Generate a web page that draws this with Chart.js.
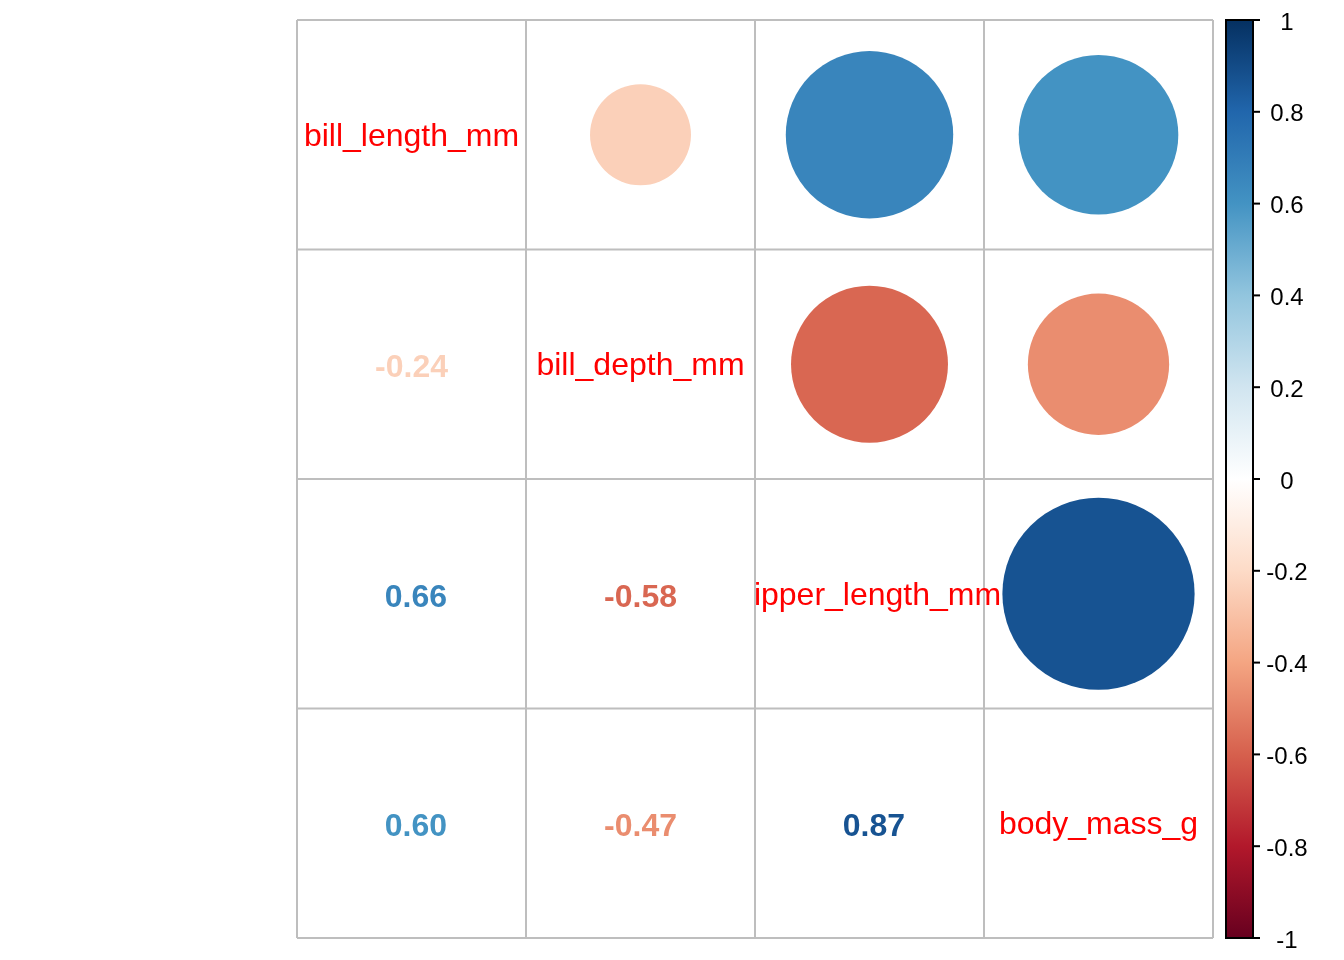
<!DOCTYPE html>
<html>
<head>
<meta charset="utf-8">
<script src="https://cdn.jsdelivr.net/npm/chart.js@4/dist/chart.umd.min.js"></script>
<style>
  html, body { margin: 0; padding: 0; background: #ffffff; }
  #wrap { width: 1344px; height: 960px; }
</style>
</head>
<body>
<div id="wrap"><canvas id="corr"></canvas></div>
<script>
'use strict';

// ── Data ────────────────────────────────────────────────────────
const variables = ['bill_length_mm', 'bill_depth_mm', 'flipper_length_mm', 'body_mass_g'];
const corrBillLength  = [1.00, -0.24, 0.66, 0.60];
const corrBillDepth   = [-0.24, 1.00, -0.58, -0.47];
const corrFlipper     = [0.66, -0.58, 1.00, 0.87];
const corrBodyMass    = [0.60, -0.47, 0.87, 1.00];
const corrMatrix = [corrBillLength, corrBillDepth, corrFlipper, corrBodyMass];
const legendTicks = [1, 0.8, 0.6, 0.4, 0.2, 0, -0.2, -0.4, -0.6, -0.8, -1];

// ── Palette (RdBu, as corrplot COL2) ───────────────────────────
const PALETTE = ['#67001F', '#B2182B', '#D6604D', '#F4A582', '#FDDBC7', '#FFFFFF',
                 '#D1E5F0', '#92C5DE', '#4393C3', '#2166AC', '#053061'];
const GRID = '#BEBEBE';
const FONT = '"Liberation Sans", Arial, sans-serif';

function hexToRgb(h) {
  return [parseInt(h.slice(1, 3), 16), parseInt(h.slice(3, 5), 16), parseInt(h.slice(5, 7), 16)];
}

function corrColor(r) {
  const pos = (r + 1) / 2 * (PALETTE.length - 1);
  const i = Math.min(Math.floor(pos), PALETTE.length - 2);
  const t = pos - i;
  const a = hexToRgb(PALETTE[i]);
  const b = hexToRgb(PALETTE[i + 1]);
  const c = a.map((v, k) => Math.round(v + (b[k] - v) * t));
  return `rgb(${c[0]},${c[1]},${c[2]})`;
}

function fmt(r) {
  const s = Math.abs(r).toFixed(2);
  return r < 0 ? '-' + s : ' ' + s;
}

function circleRadius(c) {
  const xs = c.chart.scales.x;
  const cell = Math.abs(xs.getPixelForValue(1) - xs.getPixelForValue(0));
  return c.raw ? Math.sqrt(Math.abs(c.raw.r)) * 0.45 * cell : 0;
}

// ── Upper triangle circles ─────────────────────────────────────
const circles = [];
corrMatrix.forEach((row, i) => {
  row.forEach((r, j) => {
    if (j > i) circles.push({ x: j + 1, y: i + 1, r: r });
  });
});

// ── Plugin: grid, diagonal labels, numbers, colour legend ──────
const corrPlot = {
  id: 'corrPlot',
  afterDatasetsDraw(chart) {
    const { ctx, scales: { x, y, cb } } = chart;
    const area = chart.chartArea;

    // grid
    ctx.save();
    ctx.strokeStyle = GRID;
    ctx.lineWidth = 2;
    for (let k = 0; k <= variables.length; k++) {
      const px = x.getPixelForValue(k + 0.5);
      const py = y.getPixelForValue(k + 0.5);
      ctx.beginPath();
      ctx.moveTo(px, area.top);
      ctx.lineTo(px, area.bottom);
      ctx.stroke();
      ctx.beginPath();
      ctx.moveTo(area.left, py);
      ctx.lineTo(area.right, py);
      ctx.stroke();
    }
    ctx.restore();

    // lower triangle numbers
    ctx.save();
    ctx.textAlign = 'center';
    ctx.textBaseline = 'middle';
    ctx.font = `bold 32px ${FONT}`;
    corrMatrix.forEach((row, i) => {
      row.forEach((r, j) => {
        if (j < i) {
          ctx.fillStyle = corrColor(r);
          ctx.fillText(fmt(r), x.getPixelForValue(j + 1), y.getPixelForValue(i + 1) + 4);
        }
      });
    });
    ctx.restore();

    // diagonal labels (clipped at the left cell edge)
    variables.forEach((name, i) => {
      const left = x.getPixelForValue(i + 0.5);
      ctx.save();
      ctx.beginPath();
      ctx.rect(left, area.top, area.right + 60 - left, area.bottom - area.top);
      ctx.clip();
      ctx.font = `32px ${FONT}`;
      ctx.fillStyle = '#FF0000';
      ctx.textAlign = 'center';
      ctx.textBaseline = 'middle';
      ctx.fillText(name, x.getPixelForValue(i + 1), y.getPixelForValue(i + 1) + 2);
      ctx.restore();
    });

    // colour legend
    const bx0 = 1226, bx1 = 1253;
    const top = cb.getPixelForValue(1), bottom = cb.getPixelForValue(-1);
    const grad = ctx.createLinearGradient(0, top, 0, bottom);
    PALETTE.slice().reverse().forEach((c, k) => grad.addColorStop(k / (PALETTE.length - 1), c));
    ctx.save();
    ctx.fillStyle = grad;
    ctx.fillRect(bx0, top, bx1 - bx0, bottom - top);
    ctx.strokeStyle = '#000000';
    ctx.lineWidth = 2;
    ctx.strokeRect(bx0, top, bx1 - bx0, bottom - top);
    ctx.font = `24px ${FONT}`;
    ctx.fillStyle = '#000000';
    ctx.textAlign = 'center';
    ctx.textBaseline = 'middle';
    legendTicks.forEach(v => {
      const py = cb.getPixelForValue(v);
      ctx.beginPath();
      ctx.moveTo(bx1, py);
      ctx.lineTo(bx1 + 7, py);
      ctx.stroke();
      ctx.fillText(String(v), 1287, py + 3);
    });
    ctx.restore();
  }
};

// ── Chart ───────────────────────────────────────────────────────
new Chart(document.getElementById('corr').getContext('2d'), {
  type: 'scatter',
  data: {
    datasets: [{
      data: circles,
      pointStyle: 'circle',
      borderWidth: 0,
      backgroundColor: c => corrColor(c.raw ? c.raw.r : 0),
      pointRadius: circleRadius,
      pointHoverRadius: circleRadius
    }]
  },
  options: {
    responsive: true,
    maintainAspectRatio: false,
    animation: false,
    events: [],
    layout: { padding: { left: 297, top: 20, right: 131, bottom: 22 } },
    scales: {
      x: { type: 'linear', min: 0.5, max: 4.5, display: false },
      y: { type: 'linear', min: 0.5, max: 4.5, reverse: true, display: false },
      cb: { type: 'linear', axis: 'y', min: -1, max: 1, display: false }
    },
    plugins: {
      legend: { display: false },
      tooltip: { enabled: false }
    }
  },
  plugins: [corrPlot]
});
</script>
</body>
</html>
